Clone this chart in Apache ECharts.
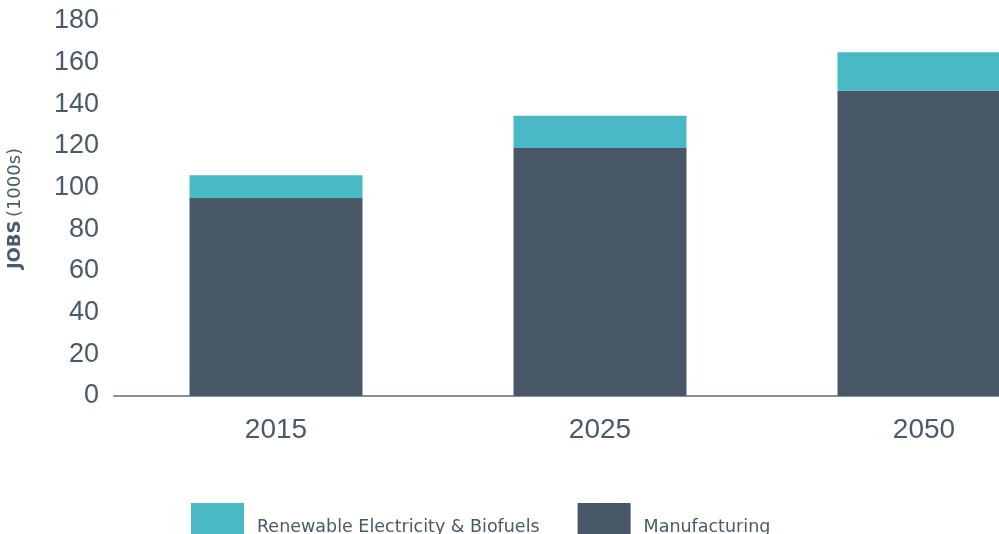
<!DOCTYPE html>
<html>
<head>
<meta charset="utf-8">
<style>
  html, body { margin: 0; padding: 0; background: #fff; }
  #app { width: 999px; height: 534px; }
</style>
<script src="https://cdn.jsdelivr.net/npm/echarts@6/dist/echarts.min.js"></script>
</head>
<body>
<div id="app"></div>
<script>
// data (thousands of jobs)
var years = ['2015', '2025', '2050'];
var manufacturing = [95, 119, 146.5];
var renewables = [11, 15.5, 18.5];
var yTicks = [0, 20, 40, 60, 80, 100, 120, 140, 160, 180];

var textColor = '#4a5a68';
var chart = echarts.init(document.getElementById('app'));

chart.setOption({
    animation: false,
    textStyle: { fontFamily: 'Liberation Sans' },
    grid: { left: 114, top: 21, width: 972, height: 375, outerBoundsMode: 'none', containLabel: false },
    legend: {
        left: 191,
        top: 503,
        padding: 0,
        itemWidth: 53,
        itemHeight: 31,
        itemGap: 38,
        icon: 'rect',
        data: ['Renewable Electricity & Biofuels', 'Manufacturing'],
        formatter: '{t|{name}}',
        textStyle: {
            color: textColor,
            fontSize: 17.5,
            fontFamily: 'DejaVu Sans',
            rich: {
                t: {
                    color: textColor,
                    fontSize: 17.5,
                    fontFamily: 'DejaVu Sans',
                    padding: [18, 0, 0, 8]
                }
            }
        }
    },
    xAxis: {
        type: 'category',
        data: years,
        axisTick: { show: false },
        axisLine: { lineStyle: { color: '#8393a0', width: 2 } },
        axisLabel: { color: textColor, fontSize: 28, margin: 20, fontFamily: 'Liberation Sans' }
    },
    yAxis: {
        type: 'value',
        min: yTicks[0],
        max: yTicks[yTicks.length - 1],
        interval: 20,
        splitLine: { show: false },
        axisLabel: { color: textColor, fontSize: 27, margin: 15, fontFamily: 'Liberation Sans' },
        name: '{b|JOBS} {n|(1000s)}',
        nameLocation: 'middle',
        nameGap: 90,
        nameTextStyle: {
            rich: {
                b: { fontSize: 18, fontWeight: 'bold', color: textColor, fontFamily: 'DejaVu Sans' },
                n: { fontSize: 18, color: textColor, fontFamily: 'DejaVu Sans' }
            }
        }
    },
    series: [
        {
            name: 'Manufacturing',
            type: 'bar',
            stack: 'jobs',
            barWidth: 173,
            itemStyle: { color: '#485866' },
            data: manufacturing
        },
        {
            name: 'Renewable Electricity & Biofuels',
            type: 'bar',
            stack: 'jobs',
            barWidth: 173,
            itemStyle: { color: '#49b9c6' },
            data: renewables
        }
    ]
});
</script>
</body>
</html>
